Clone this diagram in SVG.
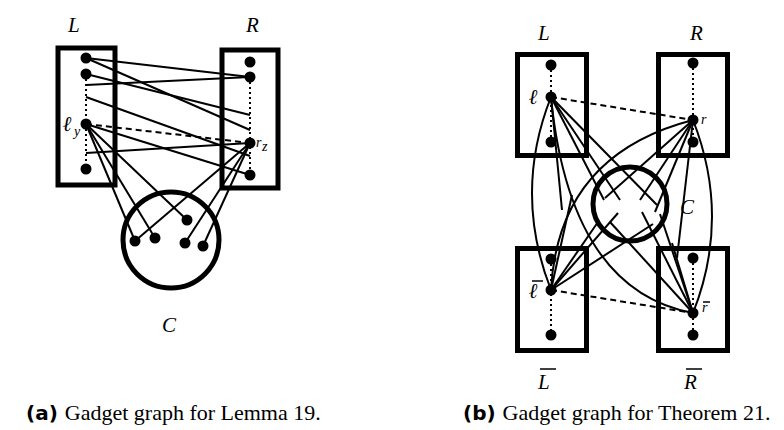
<svg xmlns="http://www.w3.org/2000/svg" width="784" height="430" viewBox="0 0 784 430">
<style>
.box{fill:none;stroke:#000;stroke-width:5}
.circ{fill:none;stroke:#000;stroke-width:5}
.e{fill:none;stroke:#000;stroke-width:2}
.dot{fill:none;stroke:#000;stroke-width:2;stroke-dasharray:2 3}
.dash{fill:none;stroke:#000;stroke-width:2;stroke-dasharray:6 4}
.n{fill:#000}
.lab{font-family:"Liberation Serif","DejaVu Serif",serif;font-style:italic;font-size:21px;fill:#000}
.sm{font-family:"Liberation Serif","DejaVu Serif",serif;font-style:italic;font-size:14px;fill:#000}
.ell{font-family:"DejaVu Serif","Liberation Serif",serif;font-style:italic;font-weight:bold;font-size:21px;fill:#000}
.cap{font-family:"Liberation Serif","DejaVu Serif",serif;font-size:22px;fill:#000}
.capb{font-family:"DejaVu Sans","Liberation Sans",sans-serif;font-weight:bold;font-size:20px;fill:#000}
.bar{stroke:#000;stroke-width:1.5}
</style>
<rect width="784" height="430" fill="#fff"/>

<!-- Panel (a) -->
<g id="a-connectors">
<line class="dot" x1="86" y1="74" x2="86" y2="169"/>
<line class="dot" x1="250" y1="77" x2="250" y2="175"/>
<line class="e" x1="86" y1="58" x2="250" y2="77"/>
<line class="e" x1="86" y1="58" x2="250" y2="130"/>
<line class="e" x1="86" y1="74" x2="250" y2="115"/>
<line class="e" x1="86" y1="85" x2="250" y2="77"/>
<line class="e" x1="86" y1="97" x2="250" y2="156"/>
<line class="e" x1="86" y1="124" x2="250" y2="175"/>
<line class="e" x1="86" y1="153" x2="250" y2="143"/>
<line class="dash" x1="86" y1="124" x2="250" y2="143"/>
<line class="e" x1="86" y1="124" x2="135" y2="241"/>
<line class="e" x1="86" y1="124" x2="155" y2="238"/>
<line class="e" x1="86" y1="124" x2="187" y2="220"/>
<line class="e" x1="250" y1="143" x2="135" y2="241"/>
<line class="e" x1="250" y1="143" x2="185" y2="243"/>
<line class="e" x1="250" y1="143" x2="203" y2="246"/>
</g>
<g id="a-L">
<rect class="box" x="58" y="48" width="57" height="137"/>
<circle class="n" cx="86" cy="58" r="5.5"/>
<circle class="n" cx="86" cy="74" r="5.5"/>
<circle class="n" cx="86" cy="124" r="5.5"/>
<circle class="n" cx="86" cy="169" r="5.5"/>
<text class="lab" x="68" y="32">L</text>
<text class="ell" x="63" y="131">ℓ</text>
<text class="sm" x="74" y="136" font-size="12">y</text>
</g>
<g id="a-R">
<rect class="box" x="222" y="50" width="56" height="138"/>
<circle class="n" cx="250" cy="62" r="5.5"/>
<circle class="n" cx="250" cy="77" r="5.5"/>
<circle class="n" cx="250" cy="143" r="5.5"/>
<circle class="n" cx="250" cy="175" r="5.5"/>
<text class="lab" x="246" y="32">R</text>
<text class="sm" x="256" y="147">r</text>
<text class="sm" x="262" y="151" font-size="11">z</text>
</g>
<g id="a-C">
<circle class="circ" cx="171" cy="240" r="48"/>
<circle class="n" cx="135" cy="241" r="5.5"/>
<circle class="n" cx="155" cy="238" r="5.5"/>
<circle class="n" cx="187" cy="220" r="5.5"/>
<circle class="n" cx="185" cy="243" r="5.5"/>
<circle class="n" cx="203" cy="246" r="5.5"/>
<text class="lab" x="162" y="332">C</text>
</g>

<!-- Panel (b) -->
<g id="b-connectors">
<line class="dot" x1="551" y1="65" x2="551" y2="142"/>
<line class="dot" x1="693" y1="63" x2="693" y2="142"/>
<line class="dot" x1="551" y1="259" x2="551" y2="335"/>
<line class="dot" x1="693" y1="258" x2="693" y2="335"/>
<line class="dash" x1="551" y1="97" x2="693" y2="120"/>
<line class="dash" x1="551" y1="290" x2="693" y2="313"/>
<path class="e" d="M551,97 Q513,193 551,290"/>
<path class="e" d="M693,120 Q731,217 693,313"/>
<path class="e" d="M551,97 Q570,290 693,313"/>
<path class="e" d="M693,120 Q558,155 551,290"/>
<line class="e" x1="551" y1="97" x2="562" y2="210"/>
<line class="e" x1="551" y1="97" x2="604" y2="200"/>
<line class="e" x1="551" y1="97" x2="620" y2="200"/>
<line class="e" x1="551" y1="97" x2="657" y2="205"/>
<line class="e" x1="693" y1="120" x2="640" y2="200"/>
<line class="e" x1="693" y1="120" x2="605" y2="198"/>
<line class="e" x1="693" y1="120" x2="655" y2="212"/>
<line class="e" x1="693" y1="120" x2="677" y2="258"/>
<line class="e" x1="551" y1="290" x2="618" y2="213"/>
<line class="e" x1="551" y1="290" x2="598" y2="222"/>
<line class="e" x1="551" y1="290" x2="653" y2="224"/>
<line class="e" x1="551" y1="290" x2="572" y2="195"/>
<line class="e" x1="693" y1="313" x2="642" y2="212"/>
<line class="e" x1="693" y1="313" x2="660" y2="214"/>
<line class="e" x1="693" y1="313" x2="610" y2="222"/>
<line class="e" x1="693" y1="313" x2="672" y2="243"/>
</g>
<g id="b-L">
<rect class="box" x="517.5" y="54.5" width="69" height="101"/>
<circle class="n" cx="551" cy="65" r="5.5"/>
<circle class="n" cx="551" cy="97" r="5.5"/>
<circle class="n" cx="551" cy="142" r="5.5"/>
<text class="lab" x="538" y="40">L</text>
<text class="ell" x="529" y="104">ℓ</text>
</g>
<g id="b-R">
<rect class="box" x="658.5" y="54.5" width="69" height="101"/>
<circle class="n" cx="693" cy="63" r="5.5"/>
<circle class="n" cx="693" cy="120" r="5.5"/>
<circle class="n" cx="693" cy="142" r="5.5"/>
<text class="lab" x="690" y="40">R</text>
<text class="sm" x="701" y="124">r</text>
</g>
<g id="b-Lbar">
<rect class="box" x="517.5" y="248.5" width="69" height="102"/>
<circle class="n" cx="551" cy="259" r="5.5"/>
<circle class="n" cx="551" cy="290" r="5.5"/>
<circle class="n" cx="551" cy="335" r="5.5"/>
<text class="lab" x="538" y="389">L</text>
<line class="bar" x1="540" y1="369" x2="556" y2="369"/>
<text class="ell" x="529" y="298">ℓ</text>
<line class="bar" x1="532" y1="281" x2="543" y2="281"/>
</g>
<g id="b-Rbar">
<rect class="box" x="658.5" y="248.5" width="69" height="102"/>
<circle class="n" cx="693" cy="258" r="5.5"/>
<circle class="n" cx="693" cy="313" r="5.5"/>
<circle class="n" cx="693" cy="335" r="5.5"/>
<text class="lab" x="684" y="389">R</text>
<line class="bar" x1="686" y1="369" x2="702" y2="369"/>
<text class="sm" x="702" y="312">r</text>
<line class="bar" x1="703" y1="302" x2="710" y2="302"/>
</g>
<g id="b-C">
<circle class="circ" cx="630" cy="204" r="37"/>
<text class="lab" x="680" y="214">C</text>
</g>

<g id="captions">
<text x="26" y="420"><tspan class="capb">(a)</tspan><tspan class="cap" dx="7">Gadget graph for Lemma 19.</tspan></text>
<text x="463" y="420"><tspan class="capb">(b)</tspan><tspan class="cap" dx="7">Gadget graph for Theorem 21.</tspan></text>
</g>
</svg>
